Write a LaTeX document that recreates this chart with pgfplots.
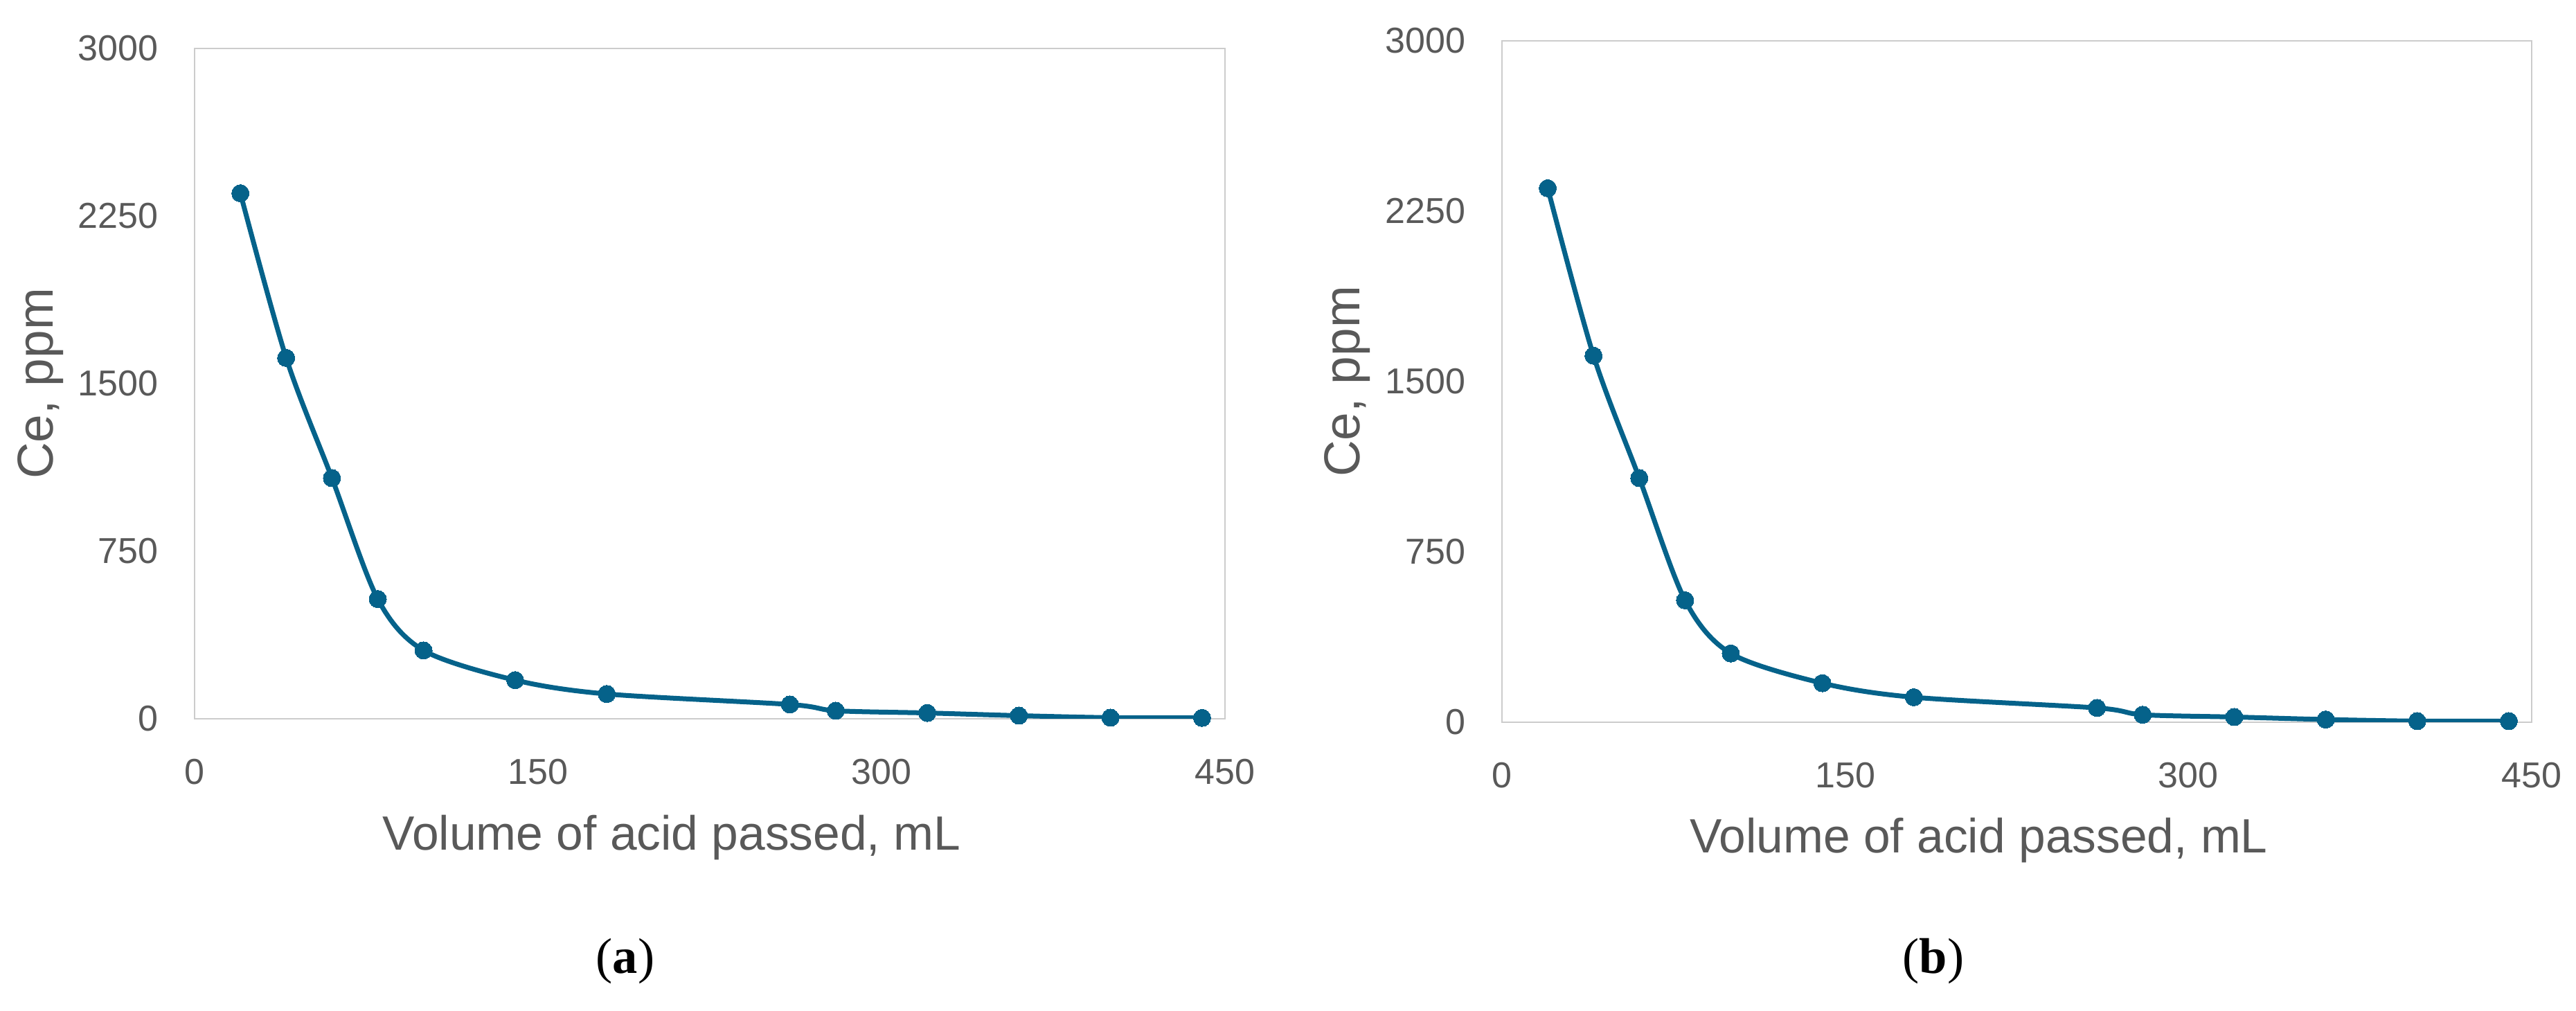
\documentclass[border=0pt]{standalone}
\usepackage{fontspec}
\setmainfont{Liberation Sans}
\newfontfamily\capfont{Liberation Serif}
\usepackage{pgfplots}
\pgfplotsset{compat=1.18}
\definecolor{lineblue}{HTML}{05628A}
\definecolor{txtgray}{HTML}{595959}
\definecolor{framegray}{HTML}{CCCCCC}

\pgfplotsset{cestyle/.style={
  scale only axis,
  xmin=0, xmax=450, ymin=0, ymax=3000,
  xtick={0,150,300,450}, ytick={0,750,1500,2250,3000},
  tick style={draw=none},
  major tick length=0pt,
  axis line style={draw=framegray, line width=0.55pt},
  /pgf/number format/assume math mode=true,
  /pgf/number format/1000 sep={},
  scaled ticks=false,
  ticklabel style={font=\fontsize{10.4}{12}\selectfont, text=txtgray},
  yticklabel style={anchor=east, inner sep=0pt, xshift=-10.4pt},
  xticklabel style={anchor=north, inner sep=0pt, yshift=-11.4pt},
  xlabel style={font=\fontsize{13.9}{16}\selectfont, text=txtgray},
  ylabel style={font=\fontsize{14.6}{17}\selectfont, text=txtgray},
  xlabel={Volume of acid passed, mL},
  ylabel={Ce, ppm},
}}

\begin{document}
\begin{tikzpicture}
\useasboundingbox (0,0) rectangle (744pt,291.8pt);

% (a)
\begin{axis}[cestyle,
  at={(56.2pt,84.2pt)}, anchor=south west,
  width=297.6pt, height=193.6pt,
  xlabel style={at={(axis description cs:0.463,-0.1955)}, anchor=base},
  ylabel style={at={(axis description cs:-0.1492,0.5)}, anchor=center},
]
\addplot[lineblue, line width=1.4pt, smooth, tension=0.5,
  mark=*, mark size=2.5pt, mark options={fill=lineblue, draw=lineblue, line width=0pt}]
coordinates {
(20,2352) (40,1615) (60,1077) (80,536) (100,306) (140,173) (180,111)
(260,64) (280,36) (320,26) (360,14) (400,5) (440,4)
};
\end{axis}

% (b)
\begin{axis}[cestyle,
  at={(433.8pt,83.2pt)}, anchor=south west,
  width=297.4pt, height=196.8pt,
  xlabel style={at={(axis description cs:0.463,-0.192)}, anchor=base},
  ylabel style={at={(axis description cs:-0.15,0.5)}, anchor=center},
]
\addplot[lineblue, line width=1.4pt, smooth, tension=0.5,
  mark=*, mark size=2.5pt, mark options={fill=lineblue, draw=lineblue, line width=0pt}]
coordinates {
(20,2351) (40,1614) (60,1075) (80,537) (100,303) (140,172) (180,110)
(260,63) (280,33) (320,23) (360,12) (400,5) (440,5)
};
\end{axis}

\node[font=\capfont\fontsize{14.5}{17}\selectfont] at (180.6pt,14.2pt) {(\textbf{a})};
\node[font=\capfont\fontsize{14.5}{17}\selectfont] at (558.4pt,14.2pt) {(\textbf{b})};
\end{tikzpicture}
\end{document}
